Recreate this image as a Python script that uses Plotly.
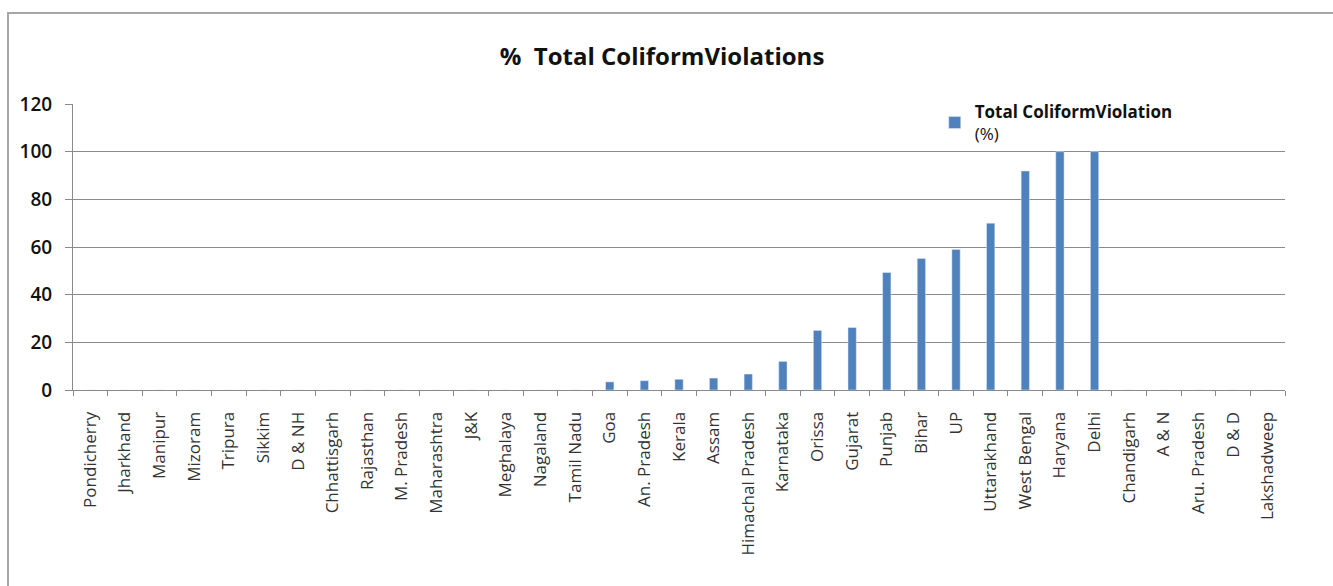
import plotly.graph_objects as go

states = ["Pondicherry", "Jharkhand", "Manipur", "Mizoram", "Tripura", "Sikkim", "D & NH",
          "Chhattisgarh", "Rajasthan", "M. Pradesh", "Maharashtra", "J&K", "Meghalaya",
          "Nagaland", "Tamil Nadu", "Goa", "An. Pradesh", "Kerala", "Assam",
          "Himachal Pradesh", "Karnataka", "Orissa", "Gujarat", "Punjab", "Bihar", "UP",
          "Uttarakhand", "West Bengal", "Haryana", "Delhi", "Chandigarh", "A & N",
          "Aru. Pradesh", "D & D", "Lakshadweep"]
violation_pct = [0, 0, 0, 0, 0, 0, 0,
                 0, 0, 0, 0, 0, 0,
                 0, 0, 3.4, 3.9, 4.5, 5.0,
                 6.7, 12.0, 25.0, 26.2, 49.3, 55.2, 59.0,
                 70.0, 91.9, 100, 100, 0, 0,
                 0, 0, 0]
y_ticks = [0, 20, 40, 60, 80, 100, 120]

FONT = "Open Sans, sans-serif"
BLUE = "#4F81BD"
GRID = "#8A8A8A"

fig = go.Figure()
fig.add_trace(go.Bar(
    x=states, y=violation_pct, marker_color=BLUE, width=0.24,
    name="<b>Total ColiformViolation</b><br>(%)",
))

fig.update_layout(
    width=1333, height=586,
    paper_bgcolor="white", plot_bgcolor="white",
    margin=dict(l=73, r=48, t=104, b=196),
    title=dict(text="<b>%  Total ColiformViolations</b>", x=(662 - 73) / 1212, xanchor="center",
               xref="paper", y=1 - 57 / 586, yanchor="middle",
               font=dict(family=FONT, size=24, color="#111111")),
    font=dict(family=FONT, color="#222222"),
    showlegend=True,
    legend=dict(x=0.711, y=1.035, xanchor="left", yanchor="top", bgcolor="rgba(0,0,0,0)",
                font=dict(family=FONT, size=17, color="#111111"), itemwidth=30,
                tracegroupgap=0),
    bargap=0.76,
)
fig.update_xaxes(
    type="category", tickangle=-90, tickfont=dict(family=FONT, size=17, color="#333333"),
    showline=True, linecolor=GRID, linewidth=1, ticks="outside", ticklen=5,
    tickcolor=GRID, tickson="boundaries", showgrid=False, ticklabelstandoff=14,
)
fig.update_yaxes(
    range=[0, 120], tickvals=y_ticks, showline=True, linecolor=GRID, linewidth=1,
    ticks="outside", ticklen=7, tickcolor=GRID, showgrid=True, gridcolor=GRID,
    gridwidth=1, zeroline=False, ticklabelstandoff=9,
    tickfont=dict(family=FONT, size=19, color="#111111", weight=600),
)
fig.add_shape(type="rect", xref="paper", yref="paper",
              x0=(8 - 73) / 1212, x1=1.2, y0=-1.0, y1=(390 - 13) / 286,
              line=dict(color="#A6A6A6", width=2), fillcolor="rgba(0,0,0,0)", layer="below")

fig.write_html("out.html")
